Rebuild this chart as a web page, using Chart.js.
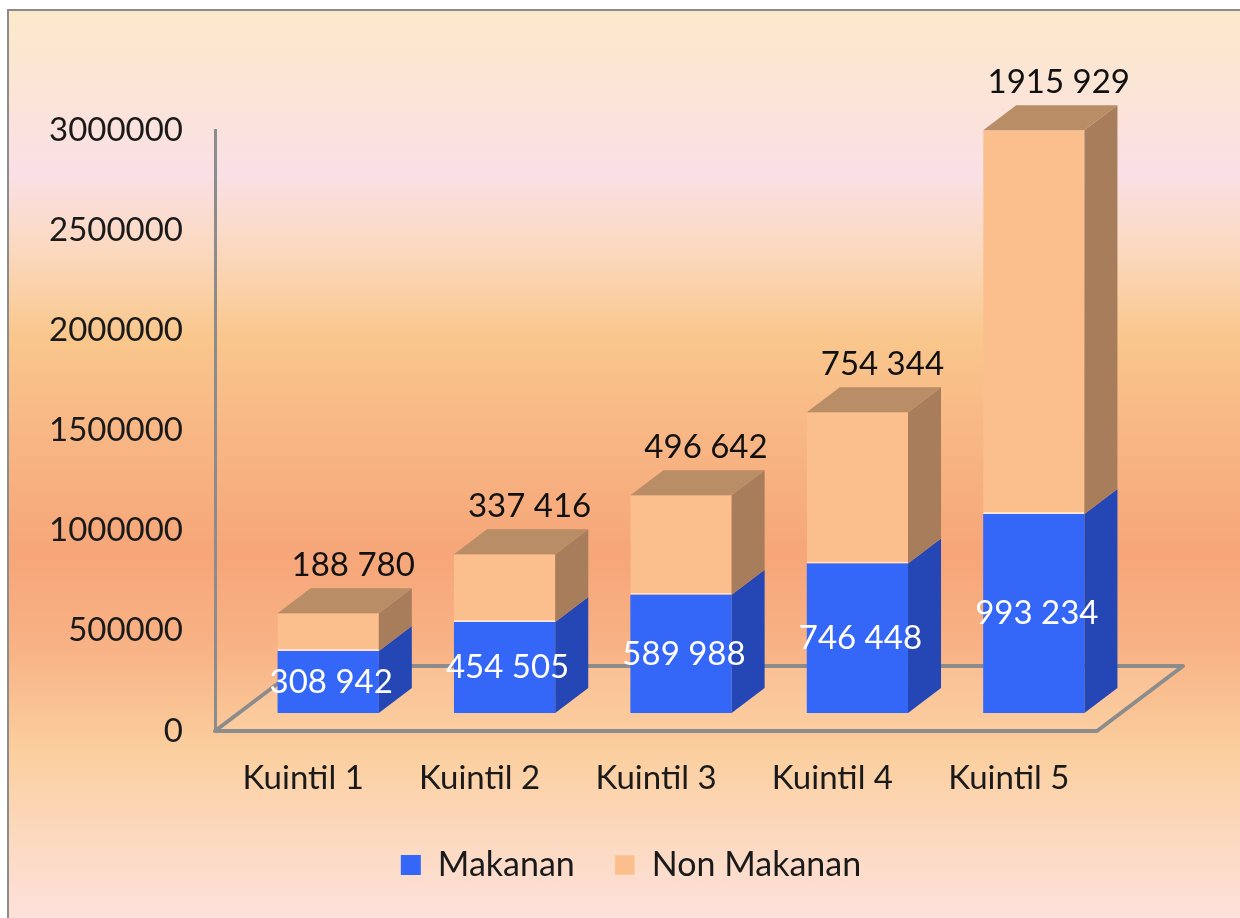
<!DOCTYPE html>
<html lang="id">
<head>
<meta charset="UTF-8">
<title>Pengeluaran per Kuintil</title>
<script src="https://cdn.jsdelivr.net/npm/chart.js"></script>
<style>
    html, body { margin: 0; padding: 0; background: #fff; }
    canvas { display: block; }
</style>
</head>
<body>
<canvas id="grafik" width="1240" height="918"></canvas>

<script>
    const kategori = ['Kuintil 1', 'Kuintil 2', 'Kuintil 3', 'Kuintil 4', 'Kuintil 5'];
    const makanan = [308942, 454505, 589988, 746448, 993234];
    const nonMakanan = [188780, 337416, 496642, 754344, 1915929];
    const tickY = [0, 500000, 1000000, 1500000, 2000000, 2500000, 3000000];

    // pseudo 3D: bars sit in the middle of the floor, floor and bars have depth
    const GESER_X = 25, GESER_Y = -18;
    const DALAM_X = 33, DALAM_Y = -25;
    const LANTAI_X = 86, LANTAI_Y = -65;

    const warnaSisi = ['#2447b5', '#a77d5b'];
    const warnaAtas = '#b98d66';

    // thousands only split once, like "1915 929"
    const format = v => {
        const s = String(v);
        return s.length > 3 ? s.slice(0, -3) + ' ' + s.slice(-3) : s;
    };

    const efek3d = {
        id: 'efek3d',
        beforeDraw(chart) {
            const c = chart.ctx;
            const g = c.createLinearGradient(0, 10, 0, 918);
            g.addColorStop(0.00, '#fce9cb');
            g.addColorStop(0.10, '#fbe4d8');
            g.addColorStop(0.18, '#fae0e6');
            g.addColorStop(0.27, '#fbd8bc');
            g.addColorStop(0.36, '#f9c78c');
            g.addColorStop(0.47, '#f8b685');
            g.addColorStop(0.60, '#f6a679');
            g.addColorStop(0.70, '#f8b285');
            g.addColorStop(0.82, '#fbcf9f');
            g.addColorStop(0.92, '#fcdac2');
            g.addColorStop(1.00, '#fde0da');
            c.save();
            c.fillStyle = '#ffffff';
            c.fillRect(0, 0, chart.width, chart.height);
            c.fillStyle = g;
            c.fillRect(8, 10, chart.width - 8, chart.height - 10);
            c.strokeStyle = '#8c8c8c';
            c.lineWidth = 2;
            c.beginPath();
            c.moveTo(8, chart.height);
            c.lineTo(8, 10);
            c.lineTo(chart.width, 10);
            c.stroke();
            c.restore();
        },
        beforeDatasetsDraw(chart) {
            const c = chart.ctx;
            const { left, right } = chart.chartArea;
            const y0 = chart.scales.y.getPixelForValue(0);
            c.save();
            c.beginPath();
            c.moveTo(left, y0);
            c.lineTo(right, y0);
            c.lineTo(right + LANTAI_X, y0 + LANTAI_Y);
            c.lineTo(left + LANTAI_X, y0 + LANTAI_Y);
            c.closePath();
            c.fillStyle = 'rgba(255, 220, 180, 0.25)';
            c.fill();
            c.strokeStyle = '#8c8c8c';
            c.lineWidth = 4;
            c.lineJoin = 'round';
            c.stroke();
            c.restore();

            c.save();
            c.translate(GESER_X, GESER_Y);
        },
        afterDatasetsDraw(chart) {
            const c = chart.ctx;
            const n = chart.data.datasets.length;
            chart.data.datasets.forEach((ds, i) => {
                chart.getDatasetMeta(i).data.forEach(bar => {
                    const { x, y, base, width } = bar.getProps(['x', 'y', 'base', 'width'], true);
                    const l = x - width / 2, r = x + width / 2;
                    c.fillStyle = warnaSisi[i];
                    c.beginPath();
                    c.moveTo(r, y);
                    c.lineTo(r + DALAM_X, y + DALAM_Y);
                    c.lineTo(r + DALAM_X, base + DALAM_Y);
                    c.lineTo(r, base);
                    c.closePath();
                    c.fill();
                    if (i === n - 1) {
                        c.fillStyle = warnaAtas;
                        c.beginPath();
                        c.moveTo(l, y);
                        c.lineTo(l + DALAM_X, y + DALAM_Y);
                        c.lineTo(r + DALAM_X, y + DALAM_Y);
                        c.lineTo(r, y);
                        c.closePath();
                        c.fill();
                    }
                });
            });

            // value labels
            c.font = '33px Lato';
            c.textAlign = 'center';
            c.textBaseline = 'middle';
            chart.getDatasetMeta(0).data.forEach((bar, k) => {
                const { x, y, base } = bar.getProps(['x', 'y', 'base'], true);
                c.fillStyle = '#ffffff';
                c.fillText(format(makanan[k]), x + 3, (y + base) / 2);
            });
            chart.getDatasetMeta(1).data.forEach((bar, k) => {
                const { x, y } = bar.getProps(['x', 'y'], true);
                c.fillStyle = '#111111';
                c.fillText(format(nonMakanan[k]), x + 25, y - 48);
            });
            c.restore();
        }
    };

    Chart.defaults.font.family = 'Lato';
    Chart.defaults.color = '#1a1a1a';

    new Chart(document.getElementById('grafik'), {
        type: 'bar',
        data: {
            labels: kategori,
            datasets: [{
                label: 'Makanan',
                data: makanan,
                backgroundColor: '#3466f8',
                borderWidth: 0,
                categoryPercentage: 1,
                barPercentage: 0.574
            }, {
                label: 'Non Makanan',
                data: nonMakanan,
                backgroundColor: '#fbbf8e',
                borderColor: '#fde3cc',
                borderWidth: { top: 0, right: 0, bottom: 2, left: 0 },
                borderSkipped: false,
                categoryPercentage: 1,
                barPercentage: 0.574
            }]
        },
        options: {
            responsive: false,
            animation: false,
            clip: false,
            layout: { padding: { top: 130, right: 0, bottom: 26, left: 22 } },
            plugins: {
                tooltip: { enabled: false },
                legend: {
                    position: 'bottom',
                    labels: {
                        font: { size: 34 },
                        color: '#1a1a1a',
                        boxWidth: 20,
                        boxHeight: 20,
                        padding: 40
                    }
                }
            },
            scales: {
                x: {
                    stacked: true,
                    afterFit: s => { s.height = 77; },
                    grid: { display: false, drawTicks: false },
                    border: { display: false },
                    ticks: { font: { size: 33 }, padding: 28, color: '#1a1a1a' }
                },
                y: {
                    stacked: true,
                    min: 0,
                    max: 3000000,
                    afterBuildTicks: s => { s.ticks = tickY.map(v => ({ value: v })); },
                    afterFit: s => { s.width = 193; },
                    grid: { display: false, drawTicks: false },
                    border: { display: true, color: '#8c8c8c', width: 3 },
                    ticks: { font: { size: 33 }, padding: 32, color: '#1a1a1a', callback: v => String(v) }
                },
                // empty right-hand axis only reserves room for the 3D depth
                kanan: {
                    type: 'linear',
                    position: 'right',
                    afterFit: s => { s.width = 143; },
                    grid: { display: false, drawTicks: false },
                    border: { display: false },
                    ticks: { display: false }
                }
            }
        },
        plugins: [efek3d]
    });
</script>
</body>
</html>
